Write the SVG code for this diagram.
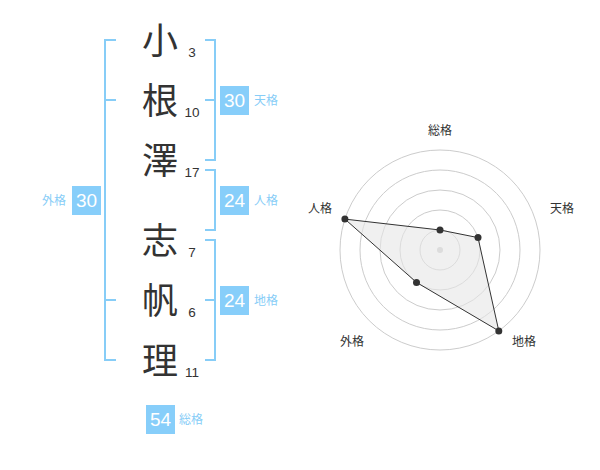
<svg xmlns="http://www.w3.org/2000/svg" width="600" height="470" viewBox="0 0 600 470">
<style>
.br{fill:none;stroke:#87cdf7;stroke-width:2}
.ch{font-family:"Noto Sans CJK JP","Noto Sans CJK SC",sans-serif;font-size:36px;fill:#333;text-anchor:middle}
.num{font-family:"Liberation Sans",Arial,sans-serif;font-size:13.5px;fill:#333;text-anchor:middle}
.box{fill:#87cefa}
.bt{font-family:"Liberation Sans",Arial,sans-serif;font-size:19px;fill:#fff;text-anchor:middle}
.lb{font-family:"Noto Sans CJK JP","Noto Sans CJK SC",sans-serif;font-size:12px;fill:#87cdf7}
.rl{font-family:"Noto Sans CJK JP","Noto Sans CJK SC",sans-serif;font-size:12px;fill:#333;text-anchor:middle}
.ring{fill:none;stroke:#ccc;stroke-width:1}
.pt{fill:#333}
</style>
<rect width="600" height="470" fill="#fff"/>
<g id="name">
<text class="ch" x="160" y="54">小</text>
<text class="ch" x="160" y="114">根</text>
<text class="ch" x="160" y="174">澤</text>
<text class="ch" x="160" y="254">志</text>
<text class="ch" x="160" y="314">帆</text>
<text class="ch" x="160" y="374">理</text>
<text class="num" x="192" y="57">3</text>
<text class="num" x="192" y="117">10</text>
<text class="num" x="192" y="177">17</text>
<text class="num" x="192" y="257">7</text>
<text class="num" x="192" y="317">6</text>
<text class="num" x="192" y="377">11</text>
</g>
<g id="brackets">
<path class="br" d="M116,40 H105 V360 H116 M105,100 H116 M105,300 H116"/>
<path class="br" d="M205,40 H215 V160 H205 M215,100 H205"/>
<path class="br" d="M205,170 H215 V230 H205"/>
<path class="br" d="M205,240 H215 V360 H205 M215,300 H205"/>
</g>
<g id="tenkaku">
<rect class="box" x="220" y="86" width="29" height="29"/>
<text class="bt" x="234.5" y="107">30</text>
<text class="lb" x="254" y="105">天格</text>
</g>
<g id="jinkaku">
<rect class="box" x="220" y="186" width="29" height="29"/>
<text class="bt" x="234.5" y="207">24</text>
<text class="lb" x="254" y="205">人格</text>
</g>
<g id="chikaku">
<rect class="box" x="220" y="286" width="29" height="29"/>
<text class="bt" x="234.5" y="307">24</text>
<text class="lb" x="254" y="305">地格</text>
</g>
<g id="gaikaku">
<rect class="box" x="72" y="186" width="29" height="29"/>
<text class="bt" x="86.5" y="207">30</text>
<text class="lb" x="66" y="205" text-anchor="end">外格</text>
</g>
<g id="soukaku">
<rect class="box" x="146" y="405" width="29" height="29"/>
<text class="bt" x="160.5" y="426">54</text>
<text class="lb" x="179" y="424">総格</text>
</g>
<g id="radar">
<circle class="ring" cx="440" cy="250" r="20"/>
<circle class="ring" cx="440" cy="250" r="40"/>
<circle class="ring" cx="440" cy="250" r="60"/>
<circle class="ring" cx="440" cy="250" r="80"/>
<circle class="ring" cx="440" cy="250" r="100"/>
<circle cx="440" cy="250" r="3" fill="#ccc"/>
<polygon points="440,230 478,237.6 498.8,330.9 416.5,282.4 344.9,219.1" fill="#e6e6e6" fill-opacity="0.6" stroke="#333" stroke-width="1"/>
<circle class="pt" cx="440" cy="230" r="3.5"/>
<circle class="pt" cx="478" cy="237.6" r="3.5"/>
<circle class="pt" cx="498.8" cy="330.9" r="3.5"/>
<circle class="pt" cx="416.5" cy="282.4" r="3.5"/>
<circle class="pt" cx="344.9" cy="219.1" r="3.5"/>
<text class="rl" x="440" y="135">総格</text>
<text class="rl" x="562" y="213">天格</text>
<text class="rl" x="524" y="346">地格</text>
<text class="rl" x="352" y="346">外格</text>
<text class="rl" x="320" y="213">人格</text>
</g>
</svg>
